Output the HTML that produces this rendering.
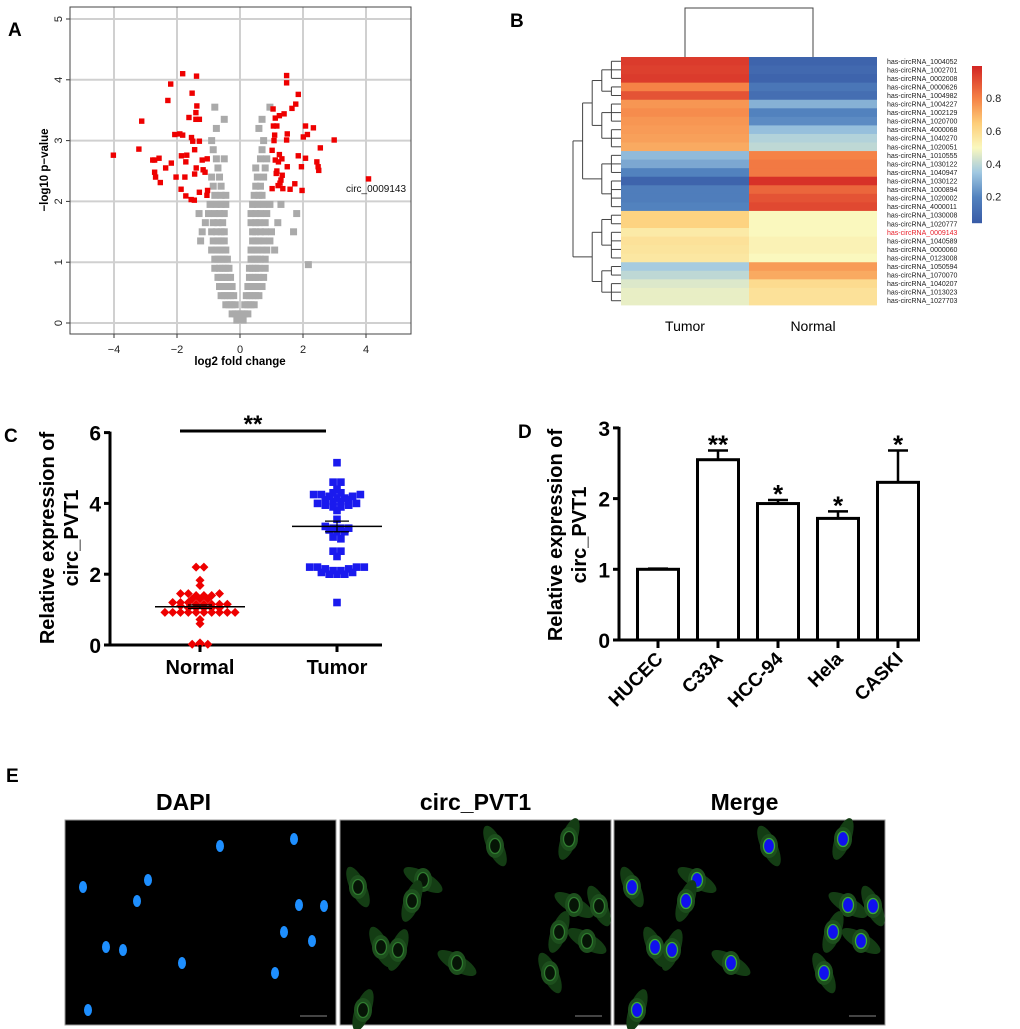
<!DOCTYPE html>
<html><head><meta charset="utf-8">
<style>
html,body{margin:0;padding:0;background:#fff;}
svg{display:block;font-family:"Liberation Sans",Arial,sans-serif;}
</style></head>
<body>
<svg id="fig" width="1020" height="1029" viewBox="0 0 1020 1029" xmlns="http://www.w3.org/2000/svg">
<g id="pA"></g>
<g id="pB"></g>
<g id="pC"></g>
<g id="pD"></g>
<g id="pE"></g>
</svg>
<script>
// ---------- Panel A data ----------
const volcanoRedX=[-1.82,-1.38,-2.2,-1.52,-2.29,-1.37,-1.4,-1.62,-1.4,-1.29,-3.12,-1.91,-2.07,-1.82,-1.54,-1.5,-1.29,-3.21,-1.44,-4.02,-1.86,-1.69,-2.57,-2.77,-2.71,-1.04,-1.2,-1.72,-2.18,-2.36,-1.39,-1.17,-1.11,-2.71,-1.44,-2.68,-2.03,-1.75,-2.53,-1.87,-1.03,-1.29,-1.05,-1.72,-1.55,-1.45,
1.48,1.48,1.85,1.77,1.65,1.05,1.4,1.25,1.12,2.08,2.33,1.06,1.17,1.5,2.14,1.1,2.01,2.99,1.08,1.48,2.55,1.02,1.85,1.25,2.08,1.33,1.12,1.22,2.44,2.48,1.5,1.95,2.5,1.17,1.15,1.34,1.3,1.27,1.74,1.21,1.02,1.36,1.59,1.97,4.08];
const volcanoRedY=[4.1,4.06,3.93,3.78,3.66,3.57,3.46,3.38,3.35,3.35,3.32,3.11,3.1,3.09,3.05,2.99,2.99,2.86,2.85,2.76,2.75,2.76,2.71,2.68,2.68,2.7,2.68,2.65,2.63,2.55,2.55,2.52,2.48,2.48,2.45,2.4,2.4,2.4,2.31,2.2,2.18,2.15,2.1,2.09,2.03,2.02,
4.07,3.95,3.76,3.6,3.53,3.52,3.44,3.41,3.37,3.24,3.21,3.24,3.24,3.11,3.1,3.09,3.06,3.01,3.0,3.01,2.88,2.84,2.75,2.77,2.71,2.7,2.68,2.65,2.65,2.57,2.57,2.57,2.51,2.5,2.46,2.43,2.35,2.3,2.29,2.26,2.21,2.21,2.2,2.18,2.37];
// gray (non-significant) points by -log10 p level: [y, x values...]
const volcanoGrayRows=[
[0.05,-0.1,0,0.1],
[0.15,-0.25,-0.15,-0.05,0.05,0.15,0.25],
[0.3,-0.45,-0.35,-0.25,-0.15,0.15,0.25,0.35,0.45],
[0.45,-0.6,-0.5,-0.4,-0.3,-0.2,0.2,0.3,0.4,0.5,0.6],
[0.6,-0.65,-0.55,-0.45,-0.35,-0.25,0.25,0.35,0.45,0.55,0.7],
[0.75,-0.7,-0.6,-0.5,-0.4,-0.3,0.3,0.4,0.5,0.6,0.75],
[0.9,-0.8,-0.65,-0.55,-0.45,-0.35,0.3,0.4,0.5,0.6,0.8],
[1.05,-0.8,-0.7,-0.6,-0.5,-0.4,0.35,0.45,0.55,0.65,0.8],
[1.2,-0.9,-0.75,-0.65,-0.55,-0.45,0.35,0.45,0.55,0.7,0.85,1.1],
[1.35,-1.25,-0.85,-0.7,-0.6,-0.5,0.4,0.5,0.6,0.75,0.95],
[1.5,-1.2,-0.9,-0.75,-0.6,-0.5,0.4,0.5,0.65,0.8,1.0,1.7],
[1.65,-1.1,-0.85,-0.7,-0.55,0.35,0.5,0.6,0.8,1.2],
[1.8,-1.3,-1.0,-0.8,-0.65,-0.5,0.35,0.5,0.65,0.85,1.8],
[1.95,-0.95,-0.75,-0.6,-0.45,0.4,0.55,0.75,0.95,1.3],
[2.1,-0.8,-0.6,-0.45,0.45,0.6,0.7],
[2.25,-0.85,-0.6,0.5,0.65],
[2.4,-0.9,-0.65,0.55,0.75],
[2.55,-0.7,0.5,0.8],
[2.7,-0.75,-0.5,0.65,0.85],
[2.85,-0.85,0.7],
[3.0,-0.9,0.75],
[3.2,-0.75,0.6],
[3.35,-0.5,0.7],
[3.55,-0.8,0.95],
[0.96,2.17]];
const volcanoXTicks=[-4,-2,0,2,4];
const volcanoYTicks=[0,1,2,3,4,5];
// ---------- Panel B data ----------
const heatRows=["has-circRNA_1004052","has-circRNA_1002701","has-circRNA_0002008","has-circRNA_0000626","has-circRNA_1004982","has-circRNA_1004227","has-circRNA_1002129","has-circRNA_1020700","has-circRNA_4000068","has-circRNA_1040270","has-circRNA_1020051","has-circRNA_1010555","has-circRNA_1030122","has-circRNA_1040947","has-circRNA_1030122","has-circRNA_1000894","has-circRNA_1020002","has-circRNA_4000011","has-circRNA_1030008","has-circRNA_1020777","has-circRNA_0009143","has-circRNA_1040589","has-circRNA_0000060","has-circRNA_0123008","has-circRNA_1050594","has-circRNA_1070070","has-circRNA_1040207","has-circRNA_1013023","has-circRNA_1027703"];
const heatTumor=[0.95,0.94,0.95,0.8,0.9,0.76,0.78,0.76,0.75,0.74,0.72,0.32,0.28,0.2,0.08,0.18,0.18,0.2,0.63,0.63,0.55,0.58,0.57,0.56,0.36,0.4,0.45,0.47,0.47];
const heatNormal=[0.08,0.1,0.08,0.15,0.12,0.3,0.2,0.22,0.33,0.38,0.4,0.8,0.82,0.82,0.97,0.86,0.9,0.92,0.5,0.5,0.5,0.52,0.52,0.5,0.75,0.72,0.6,0.58,0.58];
const heatCols=["Tumor","Normal"];
const colorTicks=[0.2,0.4,0.6,0.8];
// ---------- Panel C data ----------
const normalVals=[2.2,2.2,1.83,1.68,1.45,1.45,1.4,1.4,1.4,1.45,1.3,1.3,1.3,1.2,1.2,1.2,1.15,1.15,1.15,1.15,1.15,1.1,1.05,1.05,1.05,1.05,1.05,0.92,0.92,0.92,0.92,0.92,0.92,0.92,0.92,0.92,0.92,0.72,0.6,0.02,0.02,0.02,0.06];
const tumorVals=[5.15,4.6,4.6,4.4,4.3,4.25,4.25,4.2,4.15,4.1,4.05,4.0,3.95,3.9,3.9,3.95,4.0,4.05,4.1,4.15,4.2,4.25,4.3,3.8,3.55,3.35,3.3,3.3,3.25,3.2,3.2,3.3,3.05,3.0,2.65,2.65,2.5,2.2,2.2,2.15,2.1,2.05,2.0,2.0,2.0,2.05,2.1,2.15,2.2,2.2,1.2];
const groupNames=["Normal","Tumor"];
const groupMeans=[1.08,3.35];
const groupSEM=[0.05,0.15];
const cTicks=[0,2,4,6];
// ---------- Panel D data ----------
const cellLines=["HUCEC","C33A","HCC-94","Hela","CASKI"];
const cellMeans=[1.0,2.55,1.93,1.72,2.23];
const cellErr=[0.01,0.13,0.05,0.1,0.45];
const cellStars=["","**","*","*","*"];
const dTicks=[0,1,2,3];

const NS="http://www.w3.org/2000/svg";
function mk(parent,tag,attrs,text){const e=document.createElementNS(NS,tag);for(const k in attrs)e.setAttribute(k,attrs[k]);if(text!==undefined)e.textContent=text;parent.appendChild(e);return e;}
const fig=document.getElementById('fig');

[["A",8,36],["B",510,27],["C",4,442],["D",518,438],["E",6,782]].forEach(l=>{
  const t=mk(fig,'text',{x:l[1],y:l[2],'font-size':19,'font-weight':'bold'},l[0]);
  
  
});

// ---------- Panel A ----------
(function(){
  const g=document.getElementById('pA');
  const L=70,R=411,T=7,B=334;
  const xs=v=>240+v*31.5, ys=v=>323-v*60.8;
  volcanoXTicks.forEach(v=>{
    const l=mk(g,'line',{x1:xs(v),x2:xs(v),y1:T,y2:B,stroke:'#d0d0d0','stroke-width':2});
    
    mk(g,'line',{x1:xs(v),x2:xs(v),y1:B,y2:338,stroke:'#333','stroke-width':1});
    const t=mk(g,'text',{x:xs(v),y:353,'font-size':11,'text-anchor':'middle',fill:'#222'},v<0?'\u2212'+(-v):String(v));
    
  });
  volcanoYTicks.forEach(v=>{
    const l=mk(g,'line',{x1:L,x2:R,y1:ys(v),y2:ys(v),stroke:'#d0d0d0','stroke-width':2});
    
    mk(g,'line',{x1:L,x2:66,y1:ys(v),y2:ys(v),stroke:'#333','stroke-width':1});
    const t=mk(g,'text',{x:0,y:0,'font-size':11,'text-anchor':'middle',fill:'#222',transform:`translate(62,${ys(v)}) rotate(-90)`},String(v));
    
  });
  const box=mk(g,'rect',{x:L,y:T,width:R-L,height:B-T,fill:'none',stroke:'#444','stroke-width':1});
  
  volcanoGrayRows.forEach(row=>{
    const y=row[0];
    row.slice(1).forEach(x=>{
      const r=mk(g,'rect',{x:xs(x)-3.5,y:ys(y)-3.5,width:7,height:7,fill:'#aaaaaa'});
      
    });
  });
  volcanoRedX.forEach((x,i)=>{
    const r=mk(g,'rect',{x:xs(x)-2.7,y:ys(volcanoRedY[i])-2.7,width:5.4,height:5.4,fill:'#ee0000'});
    
  });
  const lab=mk(g,'text',{x:346,y:192,'font-size':10,fill:'#111'},'circ_0009143');
  
  const xt=mk(g,'text',{x:240,y:365,'font-size':11.5,'font-weight':'bold','text-anchor':'middle'},'log2 fold change');
  
  const yt=mk(g,'text',{x:0,y:0,'font-size':11.5,'font-weight':'bold','text-anchor':'middle',transform:'translate(48,170) rotate(-90)'},'\u2212log10 p\u2212value');
  
})();

// ---------- Panel B ----------
(function(){
  const g=document.getElementById('pB');
  const X0=621,XM=749,X1=877,Y0=57,Y1=305,rh=(Y1-Y0)/heatRows.length;
  const stops=[[0,[49,80,160]],[0.2,[82,130,190]],[0.35,[160,200,225]],[0.5,[250,248,190]],[0.65,[253,205,120]],[0.8,[245,130,70]],[1,[210,35,35]]];
  function col(v){v=Math.max(0,Math.min(1,v));for(let i=1;i<stops.length;i++){if(v<=stops[i][0]){const a=stops[i-1],b=stops[i],t=(v-a[0])/(b[0]-a[0]);return 'rgb('+a[1].map((c,k)=>Math.round(c+(b[1][k]-c)*t)).join(',')+')';}}return 'rgb(210,35,35)';}
  heatRows.forEach((n,i)=>{
    const y=Y0+i*rh;
    const a=mk(g,'rect',{x:X0,y:y,width:XM-X0,height:rh+0.4,fill:col(heatTumor[i])});
    
    const b=mk(g,'rect',{x:XM,y:y,width:X1-XM,height:rh+0.4,fill:col(heatNormal[i])});
    
    const t=mk(g,'text',{x:887,y:y+rh/2+2.5,'font-size':7,fill:n==='has-circRNA_0009143'?'#e8202a':'#222'},n);
    
  });
  const tc=[(X0+XM)/2,(XM+X1)/2];
  mk(g,'path',{d:`M${tc[0]},${Y0} V8 H${tc[1]} V${Y0}`,fill:'none',stroke:'#444','stroke-width':1});
  const tree=[[[[[0,1,2],[3,4]],[[5,6,7],[8,9,10]]],[[11,12,13],[14,15,16,17]]],[[[18,19],[20,21,22,23]],[[24,25],[26,27,28]]]];
  const k=9.6;
  function draw(node){
    if(typeof node==='number')return {y:Y0+(node+0.5)*rh,h:0,x:X0};
    const ch=node.map(draw);
    const h=Math.max(...ch.map(c=>c.h))+1;const x=X0-h*k;
    ch.forEach(c=>mk(g,'line',{x1:x,x2:c.x,y1:c.y,y2:c.y,stroke:'#444','stroke-width':1}));
    mk(g,'line',{x1:x,x2:x,y1:ch[0].y,y2:ch[ch.length-1].y,stroke:'#444','stroke-width':1});
    return {y:(ch[0].y+ch[ch.length-1].y)/2,h:h,x:x};
  }
  draw(tree);
  const cbT=66,cbB=223,vT=0.994,vB=0.04,cy=v=>cbB-(v-vB)/(vT-vB)*(cbB-cbT);
  for(let y=cbT;y<cbB;y++){mk(g,'rect',{x:972,y:y,width:10,height:1.2,fill:col(vB+(cbB-y)/(cbB-cbT)*(vT-vB))});}
  colorTicks.forEach(v=>{const t=mk(g,'text',{x:986,y:cy(v)+4,'font-size':11,fill:'#222'},v.toFixed(1));});
  heatCols.forEach((c,i)=>{const t=mk(g,'text',{x:tc[i],y:331,'font-size':14,'text-anchor':'middle'},c);});
})();

// ---------- Panel C ----------
(function(){
  const g=document.getElementById('pC');
  const AX=110,Y0=645,ys=v=>Y0-v*35.4;
  const cx=[200,337];
  cTicks.forEach(v=>{
    mk(g,'line',{x1:104,x2:AX,y1:ys(v),y2:ys(v),stroke:'#000','stroke-width':3});
    const t=mk(g,'text',{x:101,y:ys(v)+8,'font-size':21,'font-weight':'bold','text-anchor':'end'},String(v));
    
  });
  mk(g,'line',{x1:AX,x2:AX,y1:ys(6)-1,y2:Y0+1.5,stroke:'#000','stroke-width':3});
  mk(g,'line',{x1:AX,x2:382,y1:Y0,y2:Y0,stroke:'#000','stroke-width':3});
  function swarm(vals,c,shape,color,name){
    const bins={};vals.forEach(v=>{const b=Math.round(v/0.12);(bins[b]=bins[b]||[]).push(v);});
    Object.values(bins).forEach(arr=>{arr.forEach((v,i)=>{
      const x=c+(i-(arr.length-1)/2)*7.8,y=ys(v);
      const e=shape==='d'?mk(g,'path',{d:`M${x},${y-4.5} L${x+4.5},${y} L${x},${y+4.5} L${x-4.5},${y} Z`,fill:color}):mk(g,'rect',{x:x-3.8,y:y-3.8,width:7.6,height:7.6,fill:color});
      
    });});
  }
  swarm(normalVals,cx[0],'d','#ee0000','point-normal');
  swarm(tumorVals,cx[1],'s','#1a1aee','point-tumor');
  groupNames.forEach((n,i)=>{
    mk(g,'line',{x1:cx[i]-45,x2:cx[i]+45,y1:ys(groupMeans[i]),y2:ys(groupMeans[i]),stroke:'#000','stroke-width':1.5});
    mk(g,'path',{d:`M${cx[i]-12},${ys(groupMeans[i]+groupSEM[i])} H${cx[i]+12} M${cx[i]},${ys(groupMeans[i]+groupSEM[i])} V${ys(groupMeans[i]-groupSEM[i])} M${cx[i]-12},${ys(groupMeans[i]-groupSEM[i])} H${cx[i]+12}`,stroke:'#000','stroke-width':1.2,fill:'none'});
    mk(g,'line',{x1:cx[i],x2:cx[i],y1:Y0,y2:Y0+7,stroke:'#000','stroke-width':3});
    const t=mk(g,'text',{x:cx[i],y:674,'font-size':20,'font-weight':'bold','text-anchor':'middle'},n);
    
  });
  mk(g,'line',{x1:180,x2:326,y1:431,y2:431,stroke:'#000','stroke-width':3});
  const s=mk(g,'text',{x:253,y:432,'font-size':24,'font-weight':'bold','text-anchor':'middle'},'**');
  
  const yt=mk(g,'text',{x:0,y:0,'font-size':20,'font-weight':'bold','text-anchor':'middle',transform:'translate(54,538) rotate(-90)'});
  
  mk(yt,'tspan',{x:0,dy:0},'Relative expression of');mk(yt,'tspan',{x:0,dy:24},'circ_PVT1');
})();

// ---------- Panel D ----------
(function(){
  const g=document.getElementById('pD');
  const AX=619,Y0=640,ys=v=>Y0-v*70.7;
  const xc=i=>658+i*60,bw=41;
  dTicks.forEach(v=>{
    mk(g,'line',{x1:613,x2:AX,y1:ys(v),y2:ys(v),stroke:'#000','stroke-width':3});
    const t=mk(g,'text',{x:610,y:ys(v)+8,'font-size':21,'font-weight':'bold','text-anchor':'end'},String(v));
    
  });
  mk(g,'line',{x1:AX,x2:AX,y1:ys(3)-1,y2:Y0+1.5,stroke:'#000','stroke-width':3});
  mk(g,'line',{x1:AX,x2:920,y1:Y0,y2:Y0,stroke:'#000','stroke-width':3});
  cellLines.forEach((n,i)=>{
    const x=xc(i),top=ys(cellMeans[i]),et=ys(cellMeans[i]+cellErr[i]);
    mk(g,'path',{d:`M${x},${top} V${et} M${x-10},${et} H${x+10}`,stroke:'#000','stroke-width':2.5,fill:'none'});
    const r=mk(g,'rect',{x:x-bw/2,y:top,width:bw,height:Y0-top,fill:'#fff',stroke:'#000','stroke-width':3});
    
    mk(g,'line',{x1:x,x2:x,y1:Y0,y2:Y0+8,stroke:'#000','stroke-width':3});
    const t=mk(g,'text',{x:0,y:0,'font-size':19,'font-weight':'bold','text-anchor':'end',transform:`translate(${x+6},${Y0+20}) rotate(-45)`},n);
    
    if(cellStars[i]){const s=mk(g,'text',{x:x,y:et+3,'font-size':26,'font-weight':'bold','text-anchor':'middle'},cellStars[i]);}
  });
  const yt=mk(g,'text',{x:0,y:0,'font-size':20,'font-weight':'bold','text-anchor':'middle',transform:'translate(562,535) rotate(-90)'});
  
  mk(yt,'tspan',{x:0,dy:0},'Relative expression of');mk(yt,'tspan',{x:0,dy:24},'circ_PVT1');
})();

// ---------- Panel E ----------
(function(){
  const g=document.getElementById('pE');
  const panels=[["DAPI",65],["circ_PVT1",340],["Merge",614]];
  const nuc=[[155,26],[229,19],[83,60],[18,67],[72,81],[234,85],[259,86],[219,112],[247,121],[41,127],[58,130],[117,143],[210,153],[23,190]];
  panels.forEach((p,pi)=>{
    const x0=p[1],y0=820,w=271,h=205;
    const t=mk(g,'text',{x:x0+w/2-(pi===0?17:pi===2?5:0),y:810,'font-size':23,'font-weight':'bold','text-anchor':'middle'},p[0]);
    
    const r=mk(g,'rect',{x:x0,y:y0,width:w,height:h,fill:'#000',stroke:'#999','stroke-width':1});
    
    nuc.forEach((n,j)=>{
      const cx=x0+n[0],cy=y0+n[1],ang=(j%3===0)?-25:(j%3===1?20:-60);
      if(pi>=1){
        mk(g,'ellipse',{cx:cx,cy:cy,rx:8,ry:22,fill:'#143d14',transform:`rotate(${ang} ${cx} ${cy})`});
        mk(g,'ellipse',{cx:cx,cy:cy,rx:9,ry:12,fill:'#1d4f1d'});
        mk(g,'ellipse',{cx:cx,cy:cy,rx:5.5,ry:7.5,fill:pi===1?'#061406':'#1010ee',stroke:pi===1?'#2f7a2f':'#3aaa3a','stroke-width':1.3});
      }
      else mk(g,'ellipse',{cx:cx,cy:cy,rx:4,ry:6,fill:'#1e8fff'});
    });
    mk(g,'line',{x1:x0+235,x2:x0+262,y1:y0+196,y2:y0+196,stroke:'#888','stroke-width':1});
  });
})();
</script>
</body></html>
